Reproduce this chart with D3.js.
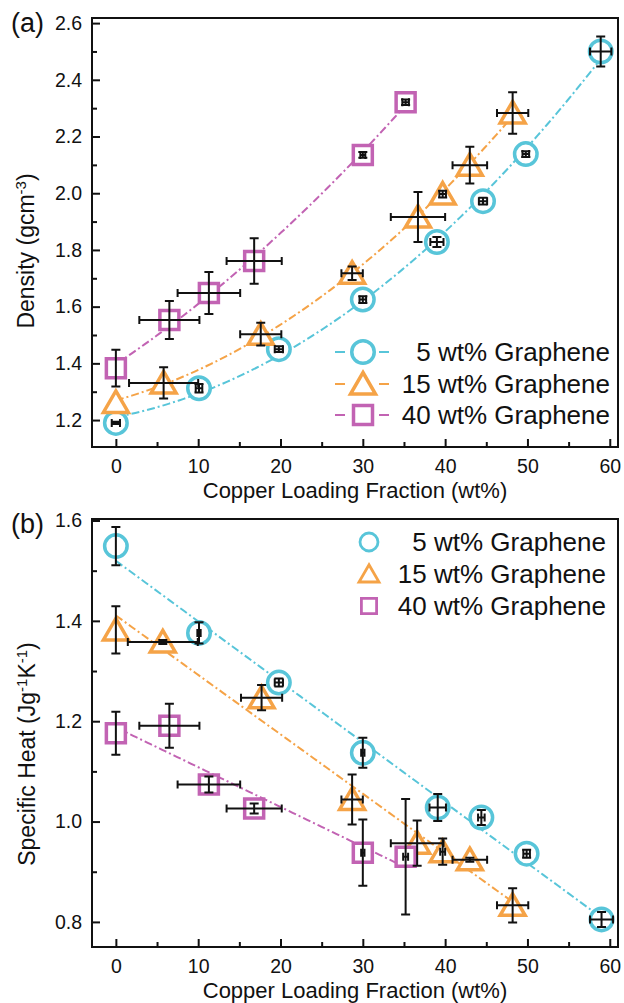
<!DOCTYPE html>
<html>
<head>
<meta charset="utf-8">
<script src="https://cdn.jsdelivr.net/npm/d3@7"></script>
<style>
  html, body { margin: 0; padding: 0; background: #ffffff; }
  svg { display: block; font-family: "Liberation Sans", Arial, sans-serif; }
</style>
</head>
<body>
<svg id="fig" width="624" height="1003"></svg>
<script>
// ---- series labels ----
const seriesNames = ["5 wt% Graphene", "15 wt% Graphene", "40 wt% Graphene"];

// ---- tick labels ----
const cuTicks = [0, 10, 20, 30, 40, 50, 60];
const cuMinorTicks = [5, 15, 25, 35, 45, 55];
const densityTicks = [1.2, 1.4, 1.6, 1.8, 2.0, 2.2, 2.4, 2.6];
const densityMinorTicks = [1.3, 1.5, 1.7, 1.9, 2.1, 2.3, 2.5];
const heatTicks = [0.8, 1.0, 1.2, 1.4, 1.6];
const heatMinorTicks = [0.9, 1.1, 1.3, 1.5];

// ---- (a) density, g cm^-3 ----
const densityCu5     = [0, 10.1, 19.8, 30.0, 39.0, 44.6, 49.8, 58.9];
const densityCuErr5  = [0.5, 0.4, 0.5, 0.4, 0.8, 0.5, 0.4, 1.3];
const density5       = [1.190, 1.312, 1.450, 1.625, 1.828, 1.972, 2.138, 2.500];
const densityErr5    = [0.004, 0.015, 0.010, 0.012, 0.018, 0.012, 0.010, 0.053];

const densityCu15    = [0, 5.8, 17.6, 28.7, 36.7, 39.7, 43.0, 48.2];
const densityCuErr15 = [0, 4.2, 2.5, 1.3, 3.3, 0.4, 2.1, 1.9];
const density15      = [1.262, 1.331, 1.503, 1.718, 1.916, 1.997, 2.099, 2.283];
const densityErr15   = [0, 0.055, 0.040, 0.024, 0.088, 0.012, 0.065, 0.073];

const densityCu40    = [0, 6.5, 11.3, 16.8, 30.0, 35.2];
const densityCuErr40 = [0, 3.65, 3.8, 3.35, 0.3, 0.4];
const density40      = [1.383, 1.553, 1.648, 1.761, 2.135, 2.321];
const densityErr40   = [0.065, 0.067, 0.074, 0.080, 0.010, 0.010];

// ---- (b) specific heat, J g^-1 K^-1 ----
const heatCu5     = [0, 10.1, 19.8, 30.0, 39.1, 44.4, 49.9, 59.0];
const heatCuErr5  = [0, 0.2, 0.5, 0.2, 1.0, 0.4, 0.4, 1.4];
const heat5       = [1.549, 1.376, 1.277, 1.137, 1.028, 1.008, 0.936, 0.805];
const heatErr5    = [0.038, 0.021, 0.008, 0.030, 0.027, 0.015, 0.008, 0.015];

const heatCu15    = [0, 5.7, 17.7, 28.7, 36.6, 39.7, 43.0, 48.2];
const heatCuErr15 = [0, 4.25, 2.5, 1.3, 3.2, 0.3, 2.1, 1.9];
const heat15      = [1.382, 1.358, 1.247, 1.044, 0.957, 0.940, 0.924, 0.833];
const heatErr15   = [0.047, 0.004, 0.025, 0.050, 0.045, 0.026, 0.004, 0.034];

const heatCu40    = [0, 6.5, 11.3, 16.8, 30.0, 35.2];
const heatCuErr40 = [0, 3.65, 3.8, 3.35, 0.2, 0.3];
const heat40      = [1.176, 1.191, 1.074, 1.026, 0.938, 0.930];
const heatErr40   = [0.043, 0.044, 0.016, 0.010, 0.066, 0.115];

// ---- styling ----
const colors = ["#58c5d9", "#f5a347", "#c263b3"];
const shapes = ["circle", "triangle", "square"];
const dashDot = "8,3,2,3";

function zipSeries(xs, xe, ys, ye) {
  return xs.map((v, i) => ({ x: v, xe: xe[i], y: ys[i], ye: ye[i] }));
}

const densitySeries = [
  zipSeries(densityCu5, densityCuErr5, density5, densityErr5),
  zipSeries(densityCu15, densityCuErr15, density15, densityErr15),
  zipSeries(densityCu40, densityCuErr40, density40, densityErr40)
];
const heatSeries = [
  zipSeries(heatCu5, heatCuErr5, heat5, heatErr5),
  zipSeries(heatCu15, heatCuErr15, heat15, heatErr15),
  zipSeries(heatCu40, heatCuErr40, heat40, heatErr40)
];

// least-squares polynomial of given degree, returns coefficients c0..cn
function polyFit(xs, ys, deg) {
  const n = deg + 1;
  const A = d3.range(n).map(() => new Array(n + 1).fill(0));
  xs.forEach((xv, k) => {
    for (let i = 0; i < n; i++) {
      for (let j = 0; j < n; j++) A[i][j] += Math.pow(xv, i + j);
      A[i][n] += ys[k] * Math.pow(xv, i);
    }
  });
  // Gaussian elimination
  for (let i = 0; i < n; i++) {
    let p = i;
    for (let r = i + 1; r < n; r++) if (Math.abs(A[r][i]) > Math.abs(A[p][i])) p = r;
    [A[i], A[p]] = [A[p], A[i]];
    for (let r = i + 1; r < n; r++) {
      const f = A[r][i] / A[i][i];
      for (let c = i; c <= n; c++) A[r][c] -= f * A[i][c];
    }
  }
  const c = new Array(n).fill(0);
  for (let i = n - 1; i >= 0; i--) {
    let s = A[i][n];
    for (let j = i + 1; j < n; j++) s -= A[i][j] * c[j];
    c[i] = s / A[i][i];
  }
  return c;
}
const polyEval = (c, xv) => c.reduce((s, ci, i) => s + ci * Math.pow(xv, i), 0);

function symbolPath(shape, s) {
  if (shape === "circle") {
    const r = 11.25 * s;
    return `M${r},0A${r},${r} 0 1,1 ${-r},0A${r},${r} 0 1,1 ${r},0Z`;
  }
  if (shape === "triangle") {
    return `M0,${-11.5 * s}L${12.5 * s},${10 * s}L${-12.5 * s},${10 * s}Z`;
  }
  const h = 9.5 * s;
  return `M${-h},${-h}H${h}V${h}H${-h}Z`;
}

const svg = d3.select("#fig");
svg.append("rect").attr("width", 624).attr("height", 1003).attr("fill", "#ffffff");

const plotLeft = 92, plotRight = 618;

function drawPanel(cfg) {
  const g = svg.append("g");
  const x = d3.scaleLinear().domain([-2.9, 61]).range([plotLeft, plotRight]);
  const y = d3.scaleLinear().domain(cfg.yDomain).range([cfg.bottom, cfg.top]);

  // fitted trend lines
  cfg.series.forEach((pts, k) => {
    const xs = pts.map(d => d.x), ys = pts.map(d => d.y);
    const [x0, x1] = d3.extent(xs);
    const c = polyFit(xs, ys, cfg.fitDegree);
    const curve = d3.range(0, 101).map(i => {
      const xv = x0 + (x1 - x0) * i / 100;
      return [xv, polyEval(c, xv)];
    });
    g.append("path")
      .attr("d", d3.line().x(d => x(d[0])).y(d => y(d[1]))(curve))
      .attr("fill", "none")
      .attr("stroke", colors[k])
      .attr("stroke-width", 2)
      .attr("stroke-dasharray", dashDot);
  });

  // hollow markers
  cfg.series.forEach((pts, k) => {
    g.append("g").selectAll("path").data(pts).join("path")
      .attr("d", symbolPath(shapes[k], 1))
      .attr("transform", d => `translate(${x(d.x)},${y(d.y)})`)
      .attr("fill", "#ffffff")
      .attr("stroke", colors[k])
      .attr("stroke-width", 3.5);
  });

  // error bars on top of markers
  const eg = g.append("g").attr("stroke", "#111").attr("stroke-width", 2).attr("fill", "none");
  cfg.series.forEach(pts => {
    pts.forEach(d => {
      const cx = x(d.x), cy = y(d.y);
      if (d.xe > 0) {
        const xa = x(d.x - d.xe), xb = x(d.x + d.xe);
        eg.append("path").attr("d",
          `M${xa},${cy}H${xb}M${xa},${cy - 4}V${cy + 4}M${xb},${cy - 4}V${cy + 4}`);
      }
      if (d.ye > 0) {
        const ya = y(d.y + d.ye), yb = y(d.y - d.ye);
        eg.append("path").attr("d",
          `M${cx},${ya}V${yb}M${cx - 4.5},${ya}H${cx + 4.5}M${cx - 4.5},${yb}H${cx + 4.5}`);
      }
    });
  });

  // axes with inward ticks
  const styleAxis = sel => {
    sel.select(".domain").remove();
    sel.selectAll("line").attr("stroke", "#111").attr("stroke-width", 2);
    sel.selectAll("text").attr("fill", "#111").attr("font-size", 19.5)
      .attr("font-family", "'Liberation Sans', Arial, sans-serif");
    sel.attr("font-family", null).attr("font-size", null);
  };
  g.append("g").attr("transform", `translate(0,${cfg.bottom})`)
    .call(d3.axisBottom(x).tickValues(cuTicks).tickSize(-8).tickPadding(12).tickFormat(d3.format("d")))
    .call(styleAxis);
  g.append("g").attr("transform", `translate(0,${cfg.bottom})`)
    .call(d3.axisBottom(x).tickValues(cuMinorTicks).tickSize(-5).tickFormat(""))
    .call(styleAxis);
  g.append("g").attr("transform", `translate(${plotLeft},0)`)
    .call(d3.axisLeft(y).tickValues(cfg.yTicks).tickSize(-8).tickPadding(10).tickFormat(d3.format(".1f")))
    .call(styleAxis);
  g.append("g").attr("transform", `translate(${plotLeft},0)`)
    .call(d3.axisLeft(y).tickValues(cfg.yMinor).tickSize(-5).tickFormat(""))
    .call(styleAxis);

  g.append("rect")
    .attr("x", plotLeft).attr("y", cfg.top)
    .attr("width", plotRight - plotLeft).attr("height", cfg.bottom - cfg.top)
    .attr("fill", "none").attr("stroke", "#111").attr("stroke-width", 2);

  // x-axis title
  g.append("text")
    .attr("x", (plotLeft + plotRight) / 2).attr("y", cfg.bottom + 51)
    .attr("text-anchor", "middle").attr("font-size", 22).attr("fill", "#111")
    .text("Copper Loading Fraction (wt%)");

  // y-axis title with superscripts
  const yt = g.append("text")
    .attr("transform", `translate(${cfg.yTitleX},${cfg.yTitleY}) rotate(-90)`)
    .attr("text-anchor", "middle").attr("font-size", 23).attr("fill", "#111");
  cfg.yTitle.forEach(part => {
    const t = yt.append("tspan").text(part.t);
    if (part.sup) t.attr("font-size", 15).attr("baseline-shift", "super");
  });

  // panel letter
  g.append("text").attr("x", 11).attr("y", cfg.top + 14)
    .attr("font-size", 27).attr("fill", "#111").text(cfg.letter);

  // legend
  const lg = g.append("g");
  cfg.legendRows.forEach((ry, k) => {
    const row = lg.append("g").attr("transform", `translate(0,${ry})`);
    if (cfg.legendLine) {
      const sx = cfg.legendSymX;
      row.append("path")
        .attr("d", `M${sx - 28},0H${sx - 18}M${sx + 16},0H${sx + 26}`)
        .attr("stroke", colors[k]).attr("stroke-width", 2);
    }
    row.append("path")
      .attr("d", symbolPath(shapes[k], cfg.legendScale))
      .attr("transform", `translate(${cfg.legendSymX},0)`)
      .attr("fill", "#ffffff").attr("stroke", colors[k]).attr("stroke-width", 3.5 * cfg.legendScale);
    row.append("text")
      .attr("x", cfg.legendTextX).attr("dy", "0.36em")
      .attr("text-anchor", "end").attr("font-size", 26).attr("fill", "#111")
      .text(seriesNames[k]);
  });
}

drawPanel({
  letter: "(a)",
  top: 18, bottom: 447,
  yDomain: [1.105, 2.618],
  yTicks: densityTicks, yMinor: densityMinorTicks,
  series: densitySeries, fitDegree: 2,
  yTitle: [{ t: "Density (gcm" }, { t: "-3", sup: true }, { t: ")" }],
  yTitleX: 34, yTitleY: 251,
  legendRows: [352, 384, 415], legendSymX: 363, legendTextX: 610,
  legendScale: 1, legendLine: true
});

drawPanel({
  letter: "(b)",
  top: 519, bottom: 947,
  yDomain: [0.75, 1.603],
  yTicks: heatTicks, yMinor: heatMinorTicks,
  series: heatSeries, fitDegree: 1,
  yTitle: [{ t: "Specific Heat (Jg" }, { t: "-1", sup: true }, { t: "K" }, { t: "-1", sup: true }, { t: ")" }],
  yTitleX: 35, yTitleY: 754,
  legendRows: [542, 574, 606], legendSymX: 369, legendTextX: 606,
  legendScale: 0.8, legendLine: false
});
</script>
</body>
</html>
